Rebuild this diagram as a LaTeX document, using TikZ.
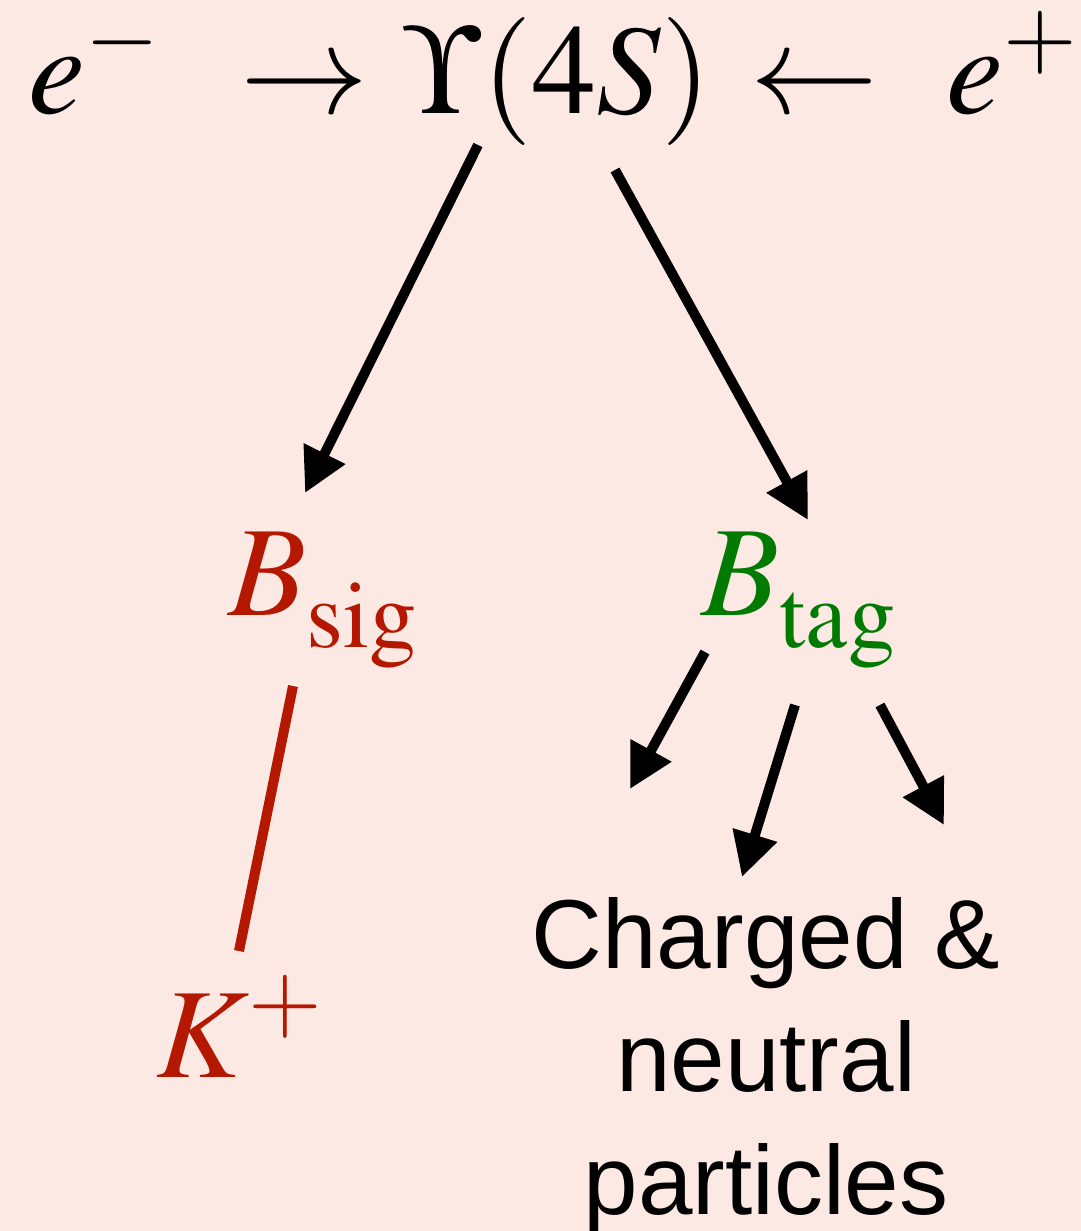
\documentclass[tikz,border=0pt]{standalone}
\usepackage{mathptmx}
\usepackage{fontspec}
\setmainfont{Liberation Serif}
\newfontfamily\labelsans{Liberation Sans}
\usetikzlibrary{arrows.meta}
\definecolor{bgpink}{RGB}{253,233,228}
\definecolor{sigred}{RGB}{181,24,0}
\definecolor{taggreen}{RGB}{0,122,0}
\newcommand{\lowsub}[1]{\lower6.5pt\hbox{$\scriptstyle\mathrm{#1}$}}
\tikzset{
  mathlbl/.style={inner sep=0pt, anchor=base west, font=\fontsize{64}{70}\selectfont},
  decayarrow/.style={line width=5pt, -{Triangle[length=22pt,width=22pt]}},
  sigline/.style={line width=5pt, draw=sigred},
  finaltext/.style={inner sep=0pt, anchor=north, align=center, font=\labelsans\fontsize{49}{61.5}\selectfont}
}
\begin{document}
\begin{tikzpicture}[x=0.5pt,y=-0.5pt]
\fill[bgpink] (0,0) rectangle (1081,1231);
\useasboundingbox (0,0) rectangle (1081,1231);
% top line
\node[mathlbl] (em) at (28,113) {$e^{-}$};
\node[mathlbl] (rarr) at (240,113) {$\rightarrow$};
\node[mathlbl] (ups) at (403,113) {$\Upsilon(4S)$};
\node[mathlbl] (larr) at (750,113) {$\leftarrow$};
\node[mathlbl] (ep) at (946,113) {$e^{+}$};
% B mesons
\node[mathlbl, text=sigred] (bsig) at (228,615) {$B_{\lowsub{sig}}$};
\node[mathlbl, text=taggreen] (btag) at (701,615) {$B_{\lowsub{tag}}$};
% final states
\node[mathlbl, text=sigred] (kp) at (156,1077) {$K^{+}$};
\node[finaltext] (part) at (766,897) {Charged \&\\neutral\\particles};
% connector ends
\coordinate (upsL) at (478,145);
\coordinate (upsR) at (615,170);
\coordinate (bsigIn) at (305,493);
\coordinate (btagIn) at (808,520);
\coordinate (bsigOut) at (293,686);
\coordinate (kpIn) at (239,951);
\coordinate (btagOutA) at (705,652);
\coordinate (btagOutB) at (795,705);
\coordinate (btagOutC) at (880,705);
\coordinate (partA) at (630,789);
\coordinate (partB) at (742,877);
\coordinate (partC) at (944,825);
% connectors
\draw[decayarrow] (upsL) -- (bsigIn);
\draw[decayarrow] (upsR) -- (btagIn);
\draw[sigline] (bsigOut) -- (kpIn);
\draw[decayarrow] (btagOutA) -- (partA);
\draw[decayarrow] (btagOutB) -- (partB);
\draw[decayarrow] (btagOutC) -- (partC);
\end{tikzpicture}
\end{document}
